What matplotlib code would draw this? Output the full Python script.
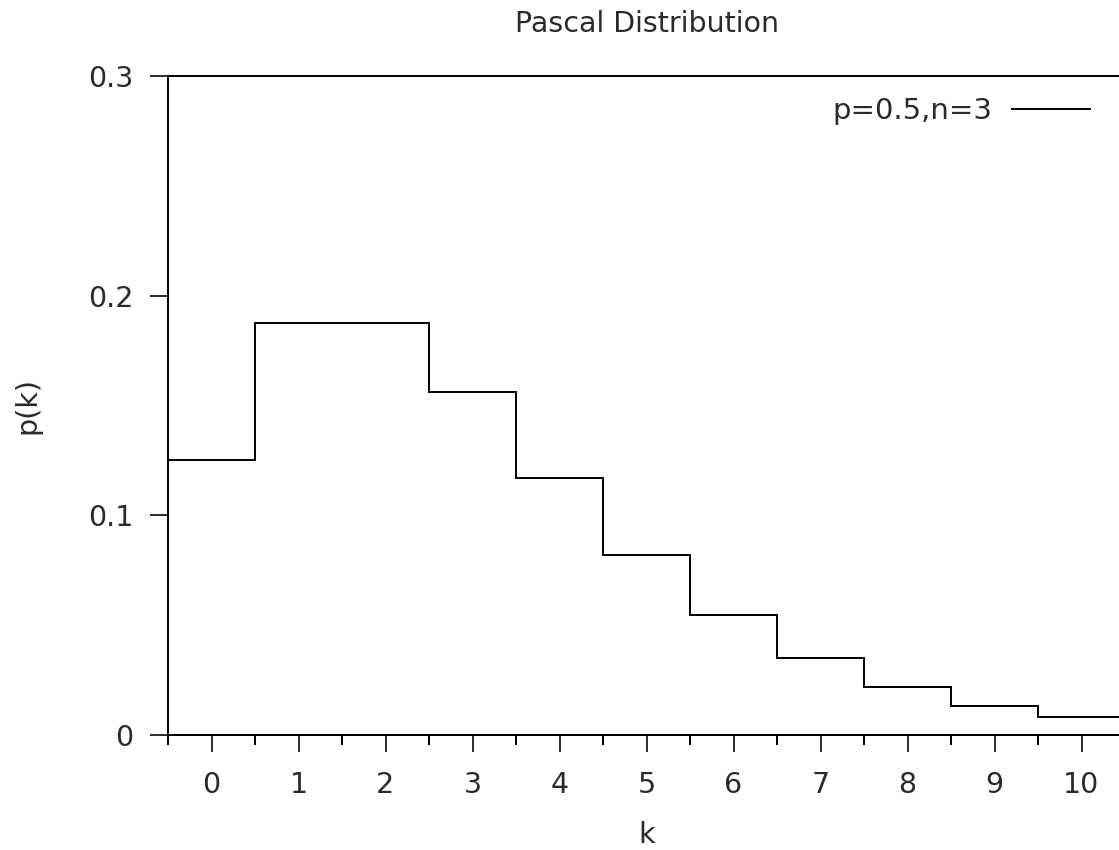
import numpy as np
import matplotlib
matplotlib.use("Agg")
import matplotlib.pyplot as plt
from matplotlib.ticker import MultipleLocator

k = list(range(0, 11))
pk = [0.125, 0.1875, 0.1875, 0.15625, 0.1172, 0.0820, 0.0547, 0.0352, 0.0220, 0.0134, 0.0081]
series_label = "p=0.5,n=3"
title = "Pascal Distribution"

plt.rcParams['font.family'] = ['DejaVu Sans']
FS = 20.5
TC = '#2a2a2a'
W, H = 1119, 850
fig = plt.figure(figsize=(W/100, H/100), dpi=100)
ax = fig.add_axes([168/W, 115/H, (1125-168)/W, (735-76)/H])

edges = np.concatenate([np.array(k) - 0.5, [k[-1] + 0.5]])
ax.stairs(pk, edges, baseline=None, color='black', linewidth=1.4, label=series_label)

ax.set_xlim(-0.5, 10.5)
ax.set_ylim(0, 0.3)
ax.set_xticks(k)
ax.xaxis.set_minor_locator(MultipleLocator(0.5))
ax.set_yticks([0, 0.1, 0.2, 0.3])
ax.set_yticklabels(['0', '0.1', '0.2', '0.3'])

for s in ['left', 'top', 'bottom']:
    ax.spines[s].set_linewidth(1.4)
ax.spines['right'].set_visible(False)

ax.tick_params(axis='both', which='major', direction='out', width=1.4, labelsize=FS, colors=TC)
ax.tick_params(axis='x', which='major', length=12, pad=14)
ax.tick_params(axis='x', which='minor', length=7, width=1.4)
ax.tick_params(axis='y', which='major', length=13, pad=12)
ax.tick_params(axis='y', which='minor', length=0)

ax.set_xlabel('k', fontsize=FS, color=TC)
ax.xaxis.label.set_va('center')
ax.xaxis.set_label_coords(0.5, ((H - 835) - 115) / (735 - 76))
ax.set_ylabel('p(k)', fontsize=FS, color=TC)
ax.yaxis.label.set_va('center')
ax.yaxis.set_label_coords((27 - 168) / (1125 - 168), ((H - 405) - 115) / (735 - 76))
fig.text(647/W, 1 - 24/H, title, ha='center', va='center', fontsize=FS, color=TC)

leg = ax.legend(loc='center right',
                bbox_to_anchor=((1090 - 168) / (1125 - 168), ((H - 111) - 115) / (735 - 76)),
                frameon=False, fontsize=21, markerfirst=False, handlelength=2.67,
                handletextpad=0.68, borderpad=0, borderaxespad=0)
for t in leg.get_texts():
    t.set_color(TC)

fig.savefig('out.png', dpi=100)
